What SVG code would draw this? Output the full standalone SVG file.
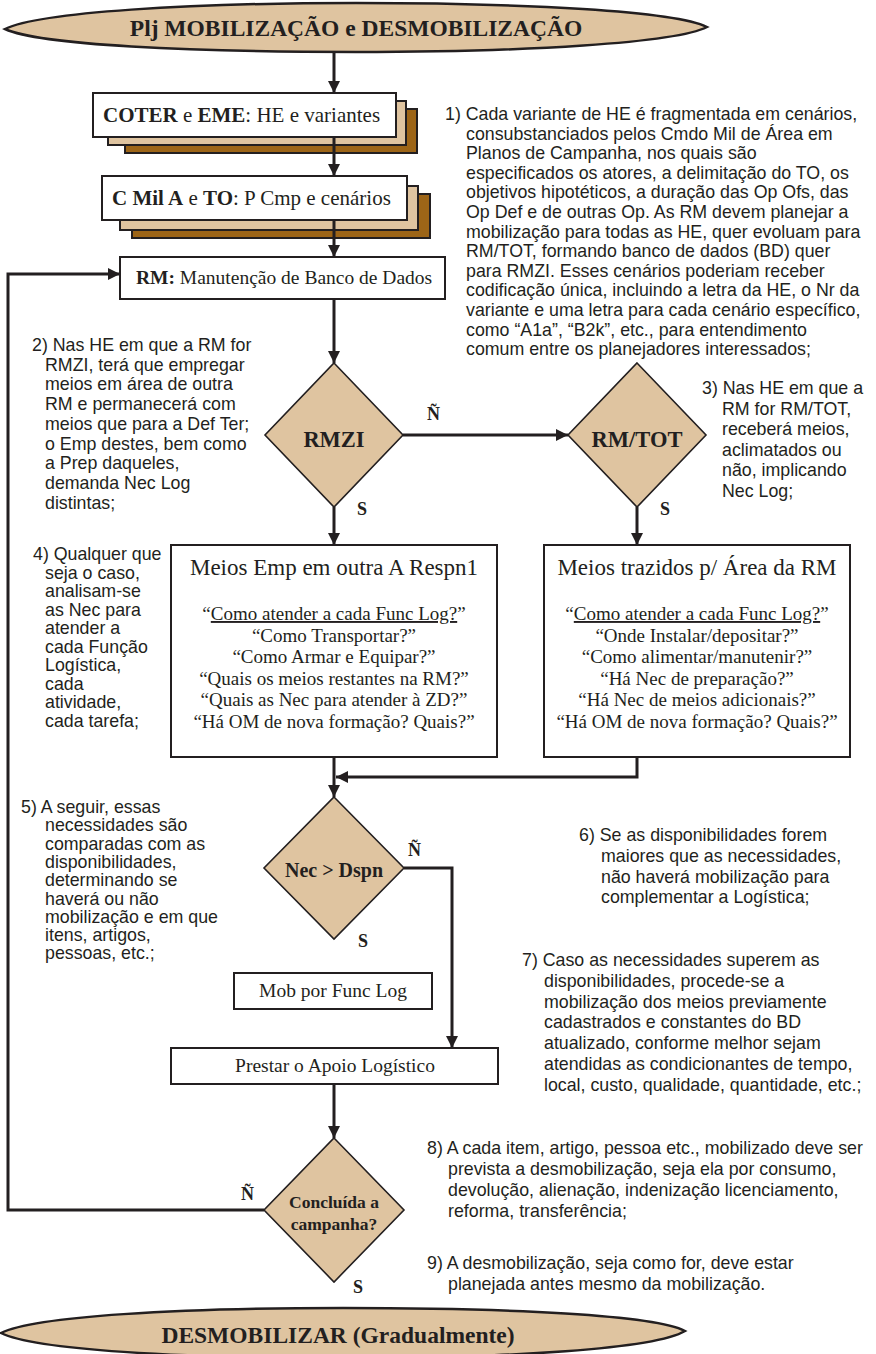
<svg xmlns="http://www.w3.org/2000/svg" width="876" height="1354" viewBox="0 0 876 1354">
  <defs>
    <style>
      .serif { font-family: "Liberation Serif", "Times New Roman", serif; fill: #231f20; }
      .ann { font-family: "Liberation Sans", Arial, sans-serif; font-size: 17.8px; fill: #231f20; }
      .b { font-weight: bold; }
      .box { fill: #ffffff; stroke: #231f20; stroke-width: 2; }
      .tan { fill: #dfc4a0; stroke: #231f20; stroke-width: 2; }
      .brown { fill: #9d6517; stroke: #231f20; stroke-width: 2; }
      .dia { fill: #dfc4a0; stroke: #231f20; stroke-width: 1.6; }
      .oval { fill: #dfc4a0; stroke: #231f20; stroke-width: 2.5; }
      .wire { fill: none; stroke: #231f20; stroke-width: 3; }
      .lbl { font-family: "Liberation Serif", "Times New Roman", serif; font-weight: bold; font-size: 18px; fill: #231f20; }
    </style>
    <marker id="ah" viewBox="0 0 12 12" refX="12" refY="6" markerWidth="12" markerHeight="12" markerUnits="userSpaceOnUse" orient="auto">
      <path d="M0,0 L12,6 L0,12 Z" fill="#231f20"/>
    </marker>
  </defs>

  <rect x="0" y="0" width="876" height="1354" fill="#ffffff"/>

  <!-- start terminator -->
  <g id="start">
    <path class="oval" d="M5,29 C40,12 190,3 356,3 C525,3 675,11 707,27 C676,43 525,52 356,52 C190,52 40,45 5,29 Z"/>
    <text class="serif b" x="356" y="36" font-size="23.5" text-anchor="middle">Plj MOBILIZAÇÃO e DESMOBILIZAÇÃO</text>
  </g>

  <!-- stacked document: COTER -->
  <g id="coter">
    <rect class="brown" x="125" y="109" width="292" height="44"/>
    <rect class="tan" x="108" y="101" width="298" height="44"/>
    <rect class="box" x="93" y="93" width="303" height="44"/>
    <text class="serif" x="103" y="122" font-size="21"><tspan class="b">COTER</tspan> e <tspan class="b">EME</tspan>: HE e variantes</text>
  </g>

  <!-- stacked document: C Mil A -->
  <g id="cmil">
    <rect class="brown" x="132" y="194" width="298" height="44"/>
    <rect class="tan" x="120" y="186" width="298" height="44"/>
    <rect class="box" x="102" y="176" width="305" height="44"/>
    <text class="serif" x="112" y="205" font-size="21"><tspan class="b">C Mil A</tspan> e <tspan class="b">TO</tspan>: P Cmp e cenários</text>
  </g>

  <!-- database maintenance -->
  <g id="rm">
    <rect class="box" x="120" y="257" width="325" height="42"/>
    <text class="serif" x="136" y="284" font-size="19.5"><tspan class="b">RM:</tspan> Manutenção de Banco de Dados</text>
  </g>

  <!-- decisions -->
  <g id="rmzi">
    <polygon class="dia" points="334,363 403,435 334,507 265,435"/>
    <text class="serif b" x="334" y="447" font-size="22.5" text-anchor="middle">RMZI</text>
  </g>
  <g id="rmtot">
    <polygon class="dia" points="637,363 706,435 637,507 568,435"/>
    <text class="serif b" x="637" y="447" font-size="22.5" text-anchor="middle">RM/TOT</text>
  </g>

  <!-- means employed elsewhere -->
  <g id="meios-emp">
    <rect class="box" x="171" y="545" width="326" height="212"/>
    <g class="serif" text-anchor="middle">
      <text x="334" y="575" font-size="23">Meios Emp em outra A Respn1</text>
      <text x="334" y="620" font-size="19">“<tspan text-decoration="underline">Como atender a cada Func Log?</tspan>”</text>
      <text x="334" y="641.5" font-size="19">“Como Transportar?”</text>
      <text x="334" y="663" font-size="19">“Como Armar e Equipar?”</text>
      <text x="334" y="684.5" font-size="19">“Quais os meios restantes na RM?”</text>
      <text x="334" y="706" font-size="19">“Quais as Nec para atender à ZD?”</text>
      <text x="334" y="727.5" font-size="19">“Há OM de nova formação? Quais?”</text>
    </g>
  </g>

  <!-- means brought to the area -->
  <g id="meios-trazidos">
    <rect class="box" x="544" y="545" width="306" height="212"/>
    <g class="serif" text-anchor="middle">
      <text x="697" y="575" font-size="23">Meios trazidos p/ Área da RM</text>
      <text x="697" y="620" font-size="19">“<tspan text-decoration="underline">Como atender a cada Func Log?</tspan>”</text>
      <text x="697" y="641.5" font-size="19">“Onde Instalar/depositar?”</text>
      <text x="697" y="663" font-size="19">“Como alimentar/manutenir?”</text>
      <text x="697" y="684.5" font-size="19">“Há Nec de preparação?”</text>
      <text x="697" y="706" font-size="19">“Há Nec de meios adicionais?”</text>
      <text x="697" y="727.5" font-size="19">“Há OM de nova formação? Quais?”</text>
    </g>
  </g>

  <g id="nec">
    <polygon class="dia" points="334,797 404,868 334,939 264,868"/>
    <text class="serif b" x="334" y="877" font-size="20" text-anchor="middle">Nec &gt; Dspn</text>
  </g>

  <g id="mob">
    <rect class="box" x="234" y="973" width="198" height="36"/>
    <text class="serif" x="333" y="997" font-size="19.5" text-anchor="middle">Mob por Func Log</text>
  </g>

  <g id="prestar">
    <rect class="box" x="171" y="1048" width="327" height="36"/>
    <text class="serif" x="335" y="1072" font-size="19.5" text-anchor="middle">Prestar o Apoio Logístico</text>
  </g>

  <g id="concluida">
    <polygon class="dia" points="334,1138 404,1210 334,1282 264,1210"/>
    <text class="serif b" x="334" y="1208" font-size="17.5" text-anchor="middle">Concluída a</text>
    <text class="serif b" x="334" y="1230" font-size="17.5" text-anchor="middle">campanha?</text>
  </g>

  <!-- end terminator -->
  <g id="end">
    <path class="oval" d="M1,1333 C35,1316 180,1308 343,1308 C510,1308 655,1315 685,1331 C655,1349 510,1358 343,1358 C180,1358 35,1350 1,1333 Z"/>
    <text class="serif b" x="338" y="1343" font-size="23.5" text-anchor="middle">DESMOBILIZAR (Gradualmente)</text>
  </g>

  <!-- connectors -->
  <g id="connectors" class="wire">
    <path d="M334,52 V93" marker-end="url(#ah)"/>
    <path d="M334,137 V176" marker-end="url(#ah)"/>
    <path d="M334,220 V257" marker-end="url(#ah)"/>
    <path d="M334,299 V363" marker-end="url(#ah)"/>
    <path d="M403,435 H568" marker-end="url(#ah)"/>
    <path d="M334,507 V545" marker-end="url(#ah)"/>
    <path d="M637,507 V545" marker-end="url(#ah)"/>
    <path d="M334,757 V797" marker-end="url(#ah)"/>
    <path d="M637,757 V777 H336" marker-end="url(#ah)"/>
    <path d="M404,868 H452 V1048" marker-end="url(#ah)"/>
    <path d="M334,1084 V1138" marker-end="url(#ah)"/>
    <path d="M264,1210 H8 V274 H120" marker-end="url(#ah)"/>
  </g>

  <!-- branch labels -->
  <g id="labels" class="lbl">
    <text x="427" y="420">Ñ</text>
    <text x="357" y="515">S</text>
    <text x="660" y="515">S</text>
    <text x="408" y="856">Ñ</text>
    <text x="358" y="947">S</text>
    <text x="241" y="1200">Ñ</text>
    <text x="353" y="1293">S</text>
  </g>

  <!-- notes -->
  <g id="note1" class="ann">
    <text x="445" y="120">1) Cada variante de HE é fragmentada em cenários,</text>
    <text x="466" y="139.6">consubstanciados pelos Cmdo Mil de Área em</text>
    <text x="466" y="159.2">Planos de Campanha, nos quais são</text>
    <text x="466" y="178.8">especificados os atores, a delimitação do TO, os</text>
    <text x="466" y="198.4">objetivos hipotéticos, a duração das Op Ofs, das</text>
    <text x="466" y="218">Op Def e de outras Op. As RM devem planejar a</text>
    <text x="466" y="237.6">mobilização para todas as HE, quer evoluam para</text>
    <text x="466" y="257.2">RM/TOT, formando banco de dados (BD) quer</text>
    <text x="466" y="276.8">para RMZI. Esses cenários poderiam receber</text>
    <text x="466" y="296.4">codificação única, incluindo a letra da HE, o Nr da</text>
    <text x="466" y="316">variante e uma letra para cada cenário específico,</text>
    <text x="466" y="335.6">como “A1a”, “B2k”, etc., para entendimento</text>
    <text x="466" y="355.2">comum entre os planejadores interessados;</text>
  </g>

  <g id="note2" class="ann">
    <text x="32" y="351">2) Nas HE em que a RM for</text>
    <text x="45" y="370.7">RMZI, terá que empregar</text>
    <text x="45" y="390.4">meios em área de outra</text>
    <text x="45" y="410.1">RM e permanecerá com</text>
    <text x="45" y="429.8">meios que para a Def Ter;</text>
    <text x="45" y="449.5">o Emp destes, bem como</text>
    <text x="45" y="469.2">a Prep daqueles,</text>
    <text x="45" y="488.9">demanda Nec Log</text>
    <text x="45" y="508.6">distintas;</text>
  </g>

  <g id="note3" class="ann" font-size="17.2">
    <text x="702" y="394">3) Nas HE em que a</text>
    <text x="722" y="414.5">RM for RM/TOT,</text>
    <text x="722" y="435">receberá meios,</text>
    <text x="722" y="455.5">aclimatados ou</text>
    <text x="722" y="476">não, implicando</text>
    <text x="722" y="496.5">Nec Log;</text>
  </g>

  <g id="note4" class="ann">
    <text x="33" y="560">4) Qualquer que</text>
    <text x="45" y="578.5">seja o caso,</text>
    <text x="45" y="597">analisam-se</text>
    <text x="45" y="615.5">as Nec para</text>
    <text x="45" y="634">atender a</text>
    <text x="45" y="652.5">cada Função</text>
    <text x="45" y="671">Logística,</text>
    <text x="45" y="689.5">cada</text>
    <text x="45" y="708">atividade,</text>
    <text x="45" y="726.5">cada tarefa;</text>
  </g>

  <g id="note5" class="ann">
    <text x="21" y="813">5) A seguir, essas</text>
    <text x="45" y="831.3">necessidades são</text>
    <text x="45" y="849.6">comparadas com as</text>
    <text x="45" y="867.9">disponibilidades,</text>
    <text x="45" y="886.2">determinando se</text>
    <text x="45" y="904.5">haverá ou não</text>
    <text x="45" y="922.8">mobilização e em que</text>
    <text x="45" y="941.1">itens, artigos,</text>
    <text x="45" y="959.4">pessoas, etc.;</text>
  </g>

  <g id="note6" class="ann">
    <text x="579" y="841">6) Se as disponibilidades forem</text>
    <text x="601" y="861.8">maiores que as necessidades,</text>
    <text x="601" y="882.6">não haverá mobilização para</text>
    <text x="601" y="903.4">complementar a Logística;</text>
  </g>

  <g id="note7" class="ann">
    <text x="522" y="966">7) Caso as necessidades superem as</text>
    <text x="544" y="986.8">disponibilidades, procede-se a</text>
    <text x="544" y="1007.6">mobilização dos meios previamente</text>
    <text x="544" y="1028.4">cadastrados e constantes do BD</text>
    <text x="544" y="1049.2">atualizado, conforme melhor sejam</text>
    <text x="544" y="1070">atendidas as condicionantes de tempo,</text>
    <text x="544" y="1090.8">local, custo, qualidade, quantidade, etc.;</text>
  </g>

  <g id="note8" class="ann">
    <text x="427" y="1154">8) A cada item, artigo, pessoa etc., mobilizado deve ser</text>
    <text x="448" y="1175">prevista a desmobilização, seja ela por consumo,</text>
    <text x="448" y="1196">devolução, alienação, indenização licenciamento,</text>
    <text x="448" y="1217">reforma, transferência;</text>
  </g>

  <g id="note9" class="ann">
    <text x="427" y="1269">9) A desmobilização, seja como for, deve estar</text>
    <text x="448" y="1290">planejada antes mesmo da mobilização.</text>
  </g>
</svg>
